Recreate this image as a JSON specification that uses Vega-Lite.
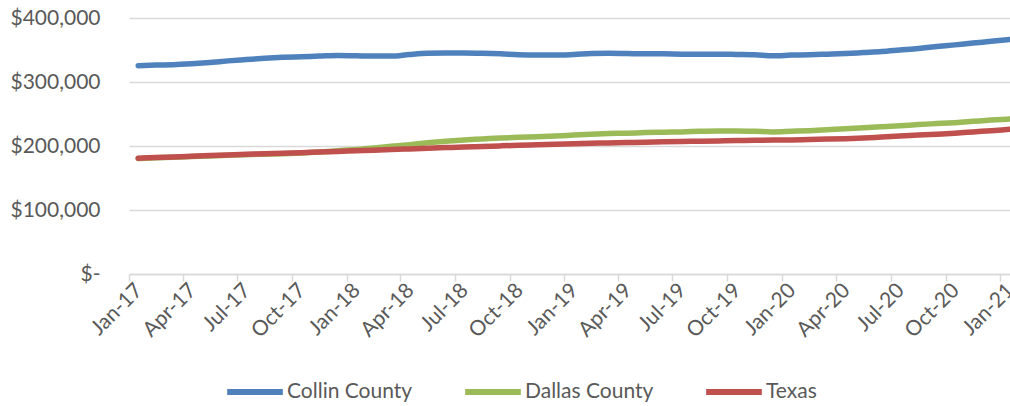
{
  "$schema": "https://vega.github.io/schema/vega-lite/v6.json",
  "width": 881,
  "height": 256,
  "autosize": {"type": "none"},
  "padding": {"left": 129, "top": 18, "right": 0, "bottom": 132},
  "background": "white",
  "data": {
    "values": [
      {"month": "2017-01", "Collin County": 325500, "Dallas County": 180500, "Texas": 181000},
      {"month": "2017-02", "Collin County": 326500, "Dallas County": 181500, "Texas": 182000},
      {"month": "2017-03", "Collin County": 327000, "Dallas County": 182500, "Texas": 183000},
      {"month": "2017-04", "Collin County": 328500, "Dallas County": 183500, "Texas": 184000},
      {"month": "2017-05", "Collin County": 330500, "Dallas County": 184500, "Texas": 185000},
      {"month": "2017-06", "Collin County": 333000, "Dallas County": 185500, "Texas": 186000},
      {"month": "2017-07", "Collin County": 335000, "Dallas County": 186500, "Texas": 187000},
      {"month": "2017-08", "Collin County": 337000, "Dallas County": 187300, "Texas": 187800},
      {"month": "2017-09", "Collin County": 338500, "Dallas County": 188000, "Texas": 188700},
      {"month": "2017-10", "Collin County": 339500, "Dallas County": 189000, "Texas": 189500},
      {"month": "2017-11", "Collin County": 340500, "Dallas County": 190500, "Texas": 190500},
      {"month": "2017-12", "Collin County": 341500, "Dallas County": 192500, "Texas": 191500},
      {"month": "2018-01", "Collin County": 341000, "Dallas County": 194500, "Texas": 192500},
      {"month": "2018-02", "Collin County": 340500, "Dallas County": 197000, "Texas": 193500},
      {"month": "2018-03", "Collin County": 340500, "Dallas County": 199500, "Texas": 194500},
      {"month": "2018-04", "Collin County": 343000, "Dallas County": 202000, "Texas": 195500},
      {"month": "2018-05", "Collin County": 345000, "Dallas County": 205000, "Texas": 196500},
      {"month": "2018-06", "Collin County": 345500, "Dallas County": 207500, "Texas": 197500},
      {"month": "2018-07", "Collin County": 345500, "Dallas County": 209500, "Texas": 198500},
      {"month": "2018-08", "Collin County": 345000, "Dallas County": 211000, "Texas": 199300},
      {"month": "2018-09", "Collin County": 344000, "Dallas County": 212500, "Texas": 200200},
      {"month": "2018-10", "Collin County": 342500, "Dallas County": 213500, "Texas": 201000},
      {"month": "2018-11", "Collin County": 342000, "Dallas County": 214500, "Texas": 201800},
      {"month": "2018-12", "Collin County": 342000, "Dallas County": 215500, "Texas": 202700},
      {"month": "2019-01", "Collin County": 343000, "Dallas County": 217000, "Texas": 203500},
      {"month": "2019-02", "Collin County": 344500, "Dallas County": 218500, "Texas": 204200},
      {"month": "2019-03", "Collin County": 345000, "Dallas County": 219500, "Texas": 204800},
      {"month": "2019-04", "Collin County": 344500, "Dallas County": 220000, "Texas": 205500},
      {"month": "2019-05", "Collin County": 344000, "Dallas County": 221000, "Texas": 206000},
      {"month": "2019-06", "Collin County": 344000, "Dallas County": 221500, "Texas": 206500},
      {"month": "2019-07", "Collin County": 343500, "Dallas County": 222000, "Texas": 207000},
      {"month": "2019-08", "Collin County": 343500, "Dallas County": 223000, "Texas": 207500},
      {"month": "2019-09", "Collin County": 343500, "Dallas County": 223500, "Texas": 208000},
      {"month": "2019-10", "Collin County": 343000, "Dallas County": 223500, "Texas": 208500},
      {"month": "2019-11", "Collin County": 342500, "Dallas County": 223000, "Texas": 208800},
      {"month": "2019-12", "Collin County": 341000, "Dallas County": 222000, "Texas": 209200},
      {"month": "2020-01", "Collin County": 342000, "Dallas County": 223000, "Texas": 209500},
      {"month": "2020-02", "Collin County": 342500, "Dallas County": 224000, "Texas": 210200},
      {"month": "2020-03", "Collin County": 343500, "Dallas County": 225500, "Texas": 210800},
      {"month": "2020-04", "Collin County": 344500, "Dallas County": 227000, "Texas": 211500},
      {"month": "2020-05", "Collin County": 346000, "Dallas County": 228500, "Texas": 212500},
      {"month": "2020-06", "Collin County": 347500, "Dallas County": 230000, "Texas": 214000},
      {"month": "2020-07", "Collin County": 350000, "Dallas County": 231500, "Texas": 215500},
      {"month": "2020-08", "Collin County": 352500, "Dallas County": 233500, "Texas": 217000},
      {"month": "2020-09", "Collin County": 355500, "Dallas County": 235000, "Texas": 218500},
      {"month": "2020-10", "Collin County": 358000, "Dallas County": 236500, "Texas": 220000},
      {"month": "2020-11", "Collin County": 361000, "Dallas County": 238500, "Texas": 222000},
      {"month": "2020-12", "Collin County": 363500, "Dallas County": 240500, "Texas": 224000},
      {"month": "2021-01", "Collin County": 366500, "Dallas County": 242000, "Texas": 226000}
    ]
  },
  "transform": [
    {"fold": ["Collin County", "Dallas County", "Texas"], "as": ["series", "value"]}
  ],
  "mark": {"type": "line", "strokeWidth": 5.5, "interpolate": "monotone", "strokeCap": "round", "strokeJoin": "round"},
  "encoding": {
    "x": {
      "field": "month",
      "type": "temporal",
      "timeUnit": "utcyearmonth",
      "bandPosition": 0.5,
      "scale": {
        "type": "utc",
        "domain": [
          {"year": 2017, "month": 1, "date": 1, "utc": true},
          {"year": 2021, "month": 1, "date": 17, "utc": true}
        ]
      },
      "axis": {
        "title": null,
        "grid": false,
        "values": [
          {"year": 2017, "month": 1, "date": 1, "utc": true},
          {"year": 2017, "month": 4, "date": 1, "utc": true},
          {"year": 2017, "month": 7, "date": 1, "utc": true},
          {"year": 2017, "month": 10, "date": 1, "utc": true},
          {"year": 2018, "month": 1, "date": 1, "utc": true},
          {"year": 2018, "month": 4, "date": 1, "utc": true},
          {"year": 2018, "month": 7, "date": 1, "utc": true},
          {"year": 2018, "month": 10, "date": 1, "utc": true},
          {"year": 2019, "month": 1, "date": 1, "utc": true},
          {"year": 2019, "month": 4, "date": 1, "utc": true},
          {"year": 2019, "month": 7, "date": 1, "utc": true},
          {"year": 2019, "month": 10, "date": 1, "utc": true},
          {"year": 2020, "month": 1, "date": 1, "utc": true},
          {"year": 2020, "month": 4, "date": 1, "utc": true},
          {"year": 2020, "month": 7, "date": 1, "utc": true},
          {"year": 2020, "month": 10, "date": 1, "utc": true},
          {"year": 2021, "month": 1, "date": 1, "utc": true}
        ],
        "labelExpr": "utcFormat(datum.value, '%b-%y')",
        "labelAngle": -45,
        "labelAlign": "right",
        "labelBaseline": "middle",
        "labelOffset": 10,
        "labelPadding": 6,
        "labelFont": "Lato",
        "labelFontSize": 21,
        "labelColor": "#595959",
        "labelOverlap": false,
        "labelBound": false,
        "labelFlush": false,
        "domainColor": "#d9d9d9",
        "domainWidth": 1.5,
        "tickColor": "#d9d9d9",
        "tickWidth": 1.5,
        "tickSize": 7
      }
    },
    "y": {
      "field": "value",
      "type": "quantitative",
      "scale": {"domain": [0, 400000], "nice": false},
      "axis": {
        "title": null,
        "values": [0, 100000, 200000, 300000, 400000],
        "labelExpr": "datum.value == 0 ? '$-' : '$' + format(datum.value, ',')",
        "domain": false,
        "ticks": false,
        "labelPadding": 29,
        "labelFont": "Lato",
        "labelFontSize": 21,
        "labelColor": "#595959",
        "gridColor": "#d9d9d9",
        "gridWidth": 1.5
      }
    },
    "color": {
      "field": "series",
      "type": "nominal",
      "scale": {
        "domain": ["Collin County", "Dallas County", "Texas"],
        "range": ["#4F81BD", "#9BBB59", "#C0504D"]
      },
      "legend": {
        "title": null,
        "orient": "none",
        "legendX": 95,
        "legendY": 343,
        "direction": "horizontal",
        "symbolType": "stroke",
        "symbolSize": 3100,
        "symbolStrokeWidth": 6,
        "labelFont": "Lato",
        "labelFontSize": 21,
        "labelColor": "#595959",
        "labelOffset": 1,
        "columnPadding": 40
      }
    }
  },
  "config": {"view": {"stroke": null}}
}
